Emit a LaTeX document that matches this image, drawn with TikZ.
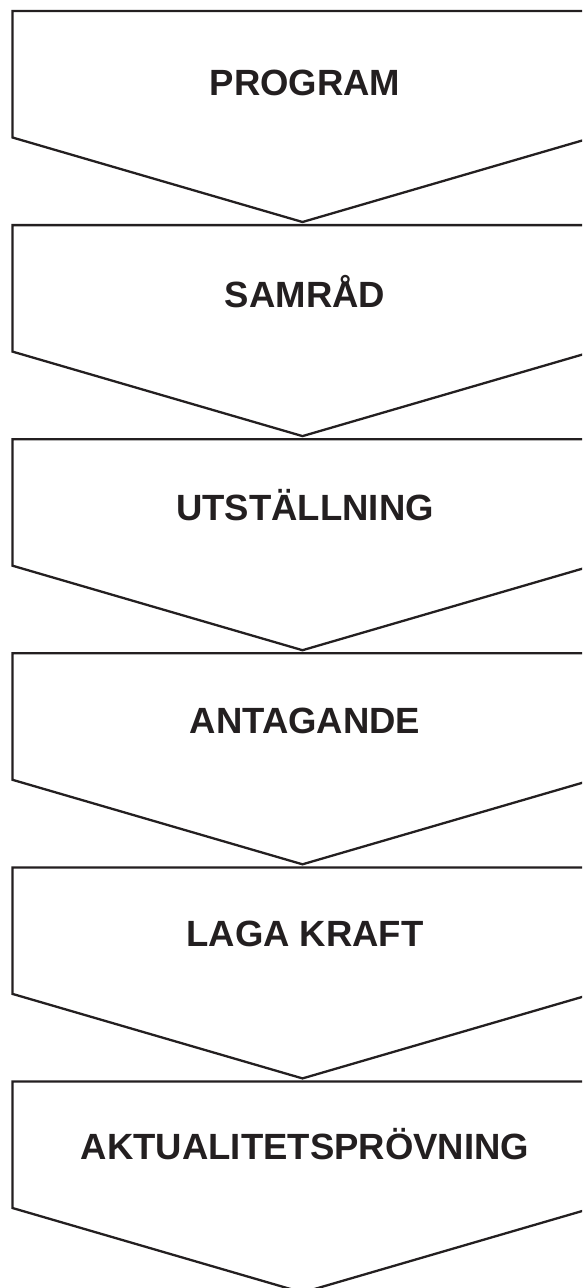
\documentclass[tikz,border=0pt]{standalone}
\usepackage{fontspec}
\setmainfont{Liberation Sans}
\definecolor{ink}{HTML}{231F20}
\begin{document}
\begin{tikzpicture}[x=1pt,y=-1pt,
  chev/.style={draw=ink, line width=2.3pt, line join=miter},
  lbl/.style={font=\fontsize{36.5}{40}\selectfont\bfseries, text=ink, anchor=base, inner sep=0pt}]
\useasboundingbox (0,0) rectangle (582,1288);
\clip (0,0) rectangle (582,1288);
\foreach \i/\t in {0/PROGRAM,1/SAMRÅD,2/UTSTÄLLNING,3/ANTAGANDE,4/LAGA KRAFT,5/AKTUALITETSPRÖVNING} {
  \pgfmathsetmacro\T{11+214.1*\i}
  \pgfmathsetmacro\C{\T+126.5}
  \pgfmathsetmacro\P{\T+211}
  \pgfmathsetmacro\B{95+212.9*\i}
  \coordinate (tl\i) at (12.5,\T);
  \coordinate (tr\i) at (592.5,\T);
  \coordinate (br\i) at (592.5,\C);
  \coordinate (tip\i) at (302.5,\P);
  \coordinate (bl\i) at (12.5,\C);
  \draw[chev] (tl\i) -- (tr\i) -- (br\i) -- (tip\i) -- (bl\i) -- cycle;
  \node[lbl] (n\i) at (305,\B) {\t};
}
\end{tikzpicture}
\end{document}
